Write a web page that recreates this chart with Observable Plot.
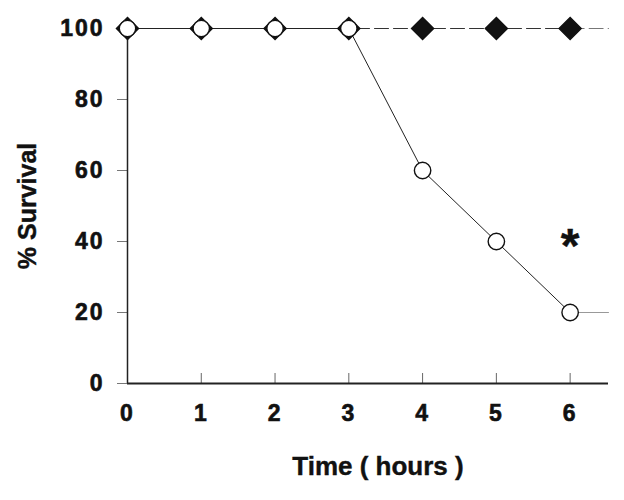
<!DOCTYPE html>
<html><head><meta charset="utf-8">
<script src="https://cdn.jsdelivr.net/npm/d3@7"></script>
<script src="https://cdn.jsdelivr.net/npm/@observablehq/plot@0.6"></script>
<style>
body{margin:0;background:#fff;}
#chart svg{font-family:"Liberation Sans",Arial,Helvetica,sans-serif;background:#fff;}
</style></head><body><div id="chart"></div>
<script>
const hours = [0, 1, 2, 3, 4, 5, 6];
const controlSurvival = [100, 100, 100, 100, 100, 100, 100];
const treatedSurvival = [100, 100, 100, 100, 60, 40, 20];
const xTicks = [0, 1, 2, 3, 4, 5, 6];
const yTicks = [0, 20, 40, 60, 80, 100];
const significance = [{hour: 6, value: 40, label: "*"}];
const xTitle = "Time ( hours )";
const yTitle = "% Survival";

const xMax = 6.52;
const control = hours.map((h, i) => ({hour: h, value: controlSurvival[i]}));
const treated = hours.map((h, i) => ({hour: h, value: treatedSurvival[i]}));
const tail = arr => [arr[arr.length - 1], {hour: xMax, value: arr[arr.length - 1].value}];

const chart = Plot.plot({
  width: 624,
  height: 500,
  marginLeft: 127,
  marginRight: 16,
  marginTop: 28,
  marginBottom: 117,
  x: {domain: [0, xMax]},
  y: {domain: [0, 100]},
  marks: [
    Plot.axisY(yTicks, {tickSize: 10, tickPadding: 13, fontSize: 23, fontWeight: "bold", fill: "#111", stroke: "#777", label: null}),
    Plot.axisX(xTicks, {tickSize: 0, tickPadding: 21, fontSize: 23, fontWeight: "bold", fill: "#111", label: null}),
    Plot.tickX(xTicks, {x: d => d, insetTop: 345, stroke: "#666"}),
    Plot.ruleX([0], {stroke: "#222", strokeWidth: 1.5}),
    Plot.ruleY([0], {stroke: "#222", strokeWidth: 2}),
    Plot.line(tail(control), {x: "hour", y: "value", stroke: "#777", strokeWidth: 1, strokeDasharray: "14,5"}),
    Plot.line(tail(treated), {x: "hour", y: "value", stroke: "#999", strokeWidth: 1}),
    Plot.line(control, {x: "hour", y: "value", stroke: "#333", strokeWidth: 1, strokeDasharray: "14,5"}),
    Plot.line(treated, {x: "hour", y: "value", stroke: "#222", strokeWidth: 1}),
    Plot.dot(control, {x: "hour", y: "value", symbol: "diamond2", r: 9.9, fill: "#111", stroke: "#111"}),
    Plot.dot(treated, {x: "hour", y: "value", symbol: "circle", r: 8.2, fill: "#fff", stroke: "#111", strokeWidth: 1.4}),
    Plot.text(significance, {x: "hour", y: "value", text: "label", fontSize: 48, fontWeight: "bold", dy: 5, fill: "#111"}),
    Plot.text([xTitle], {text: d => d, frameAnchor: "bottom", lineAnchor: "middle", textAnchor: "middle", dy: 83, dx: 10, fontSize: 26, fontWeight: "bold", fill: "#111"}),
    Plot.text([yTitle], {text: d => d, frameAnchor: "left", lineAnchor: "middle", textAnchor: "middle", rotate: -90, dx: -100, fontSize: 25, fontWeight: "bold", fill: "#111"})
  ]
});
d3.select(chart).selectAll('[aria-label="y-axis tick label"] text, [aria-label="x-axis tick label"] text')
  .style("letter-spacing", "2px").style("font-size", "23px").style("font-weight", "bold")
  .style("stroke", "#111").style("stroke-width", "0.6px");
d3.select(chart).selectAll('[aria-label="text"] text')
  .style("stroke", "#111").style("stroke-width", "0.4px");
document.getElementById("chart").appendChild(chart);
</script></body></html>
